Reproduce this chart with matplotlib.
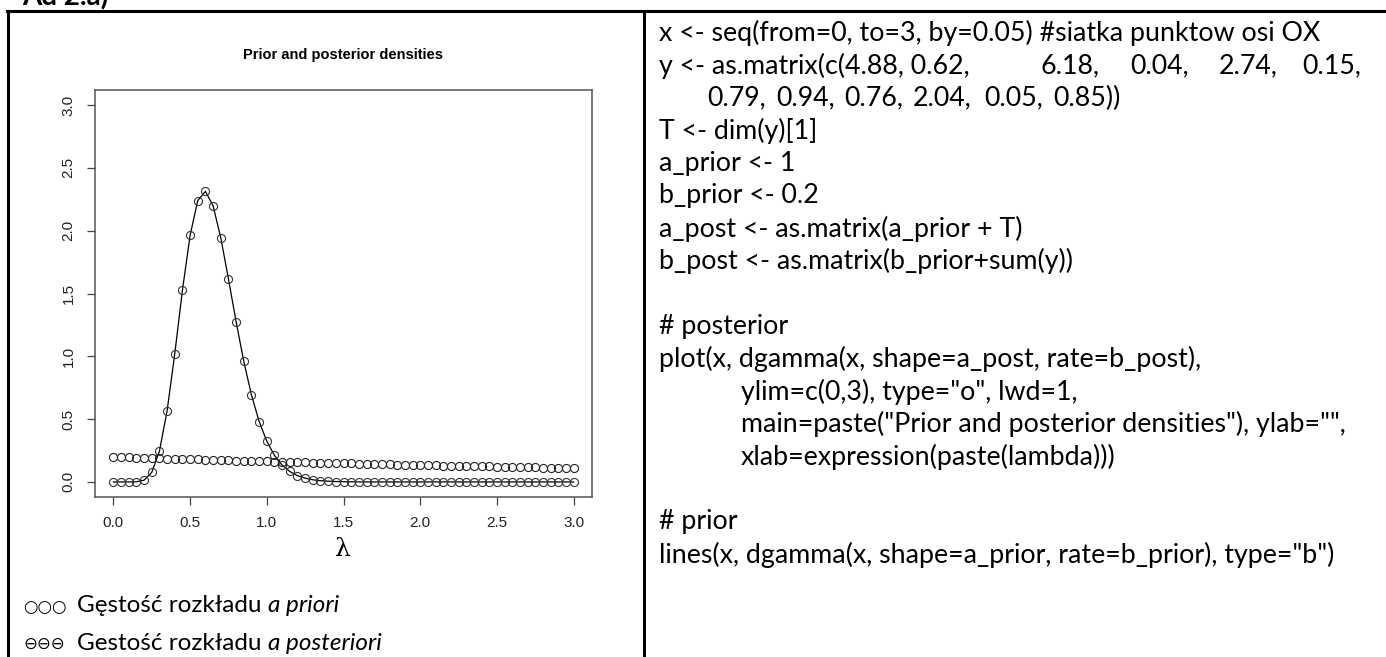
import matplotlib
matplotlib.use("Agg")
import matplotlib.pyplot as plt
from matplotlib.lines import Line2D

W, H = 1386, 657

# grid of lambda values (seq(from=0, to=3, by=0.05))
lam = [0.00, 0.05, 0.10, 0.15, 0.20, 0.25, 0.30, 0.35, 0.40, 0.45,
       0.50, 0.55, 0.60, 0.65, 0.70, 0.75, 0.80, 0.85, 0.90, 0.95,
       1.00, 1.05, 1.10, 1.15, 1.20, 1.25, 1.30, 1.35, 1.40, 1.45,
       1.50, 1.55, 1.60, 1.65, 1.70, 1.75, 1.80, 1.85, 1.90, 1.95,
       2.00, 2.05, 2.10, 2.15, 2.20, 2.25, 2.30, 2.35, 2.40, 2.45,
       2.50, 2.55, 2.60, 2.65, 2.70, 2.75, 2.80, 2.85, 2.90, 2.95,
       3.00]

posterior = [0.000, 0.000, 0.000, 0.001, 0.014, 0.076, 0.245, 0.566, 1.021, 1.526,
             1.963, 2.240, 2.313, 2.197, 1.943, 1.616, 1.275, 0.959, 0.692, 0.481,
             0.324, 0.211, 0.134, 0.083, 0.050, 0.030, 0.017, 0.010, 0.006, 0.003,
             0.002, 0.001, 0.000, 0.000, 0.000, 0.000, 0.000, 0.000, 0.000, 0.000,
             0.000, 0.000, 0.000, 0.000, 0.000, 0.000, 0.000, 0.000, 0.000, 0.000,
             0.000, 0.000, 0.000, 0.000, 0.000, 0.000, 0.000, 0.000, 0.000, 0.000,
             0.000]

prior = [0.200, 0.198, 0.196, 0.194, 0.192, 0.190, 0.188, 0.186, 0.185, 0.183,
         0.181, 0.179, 0.177, 0.176, 0.174, 0.172, 0.170, 0.169, 0.167, 0.165,
         0.164, 0.162, 0.161, 0.159, 0.157, 0.156, 0.154, 0.153, 0.151, 0.150,
         0.148, 0.147, 0.145, 0.144, 0.142, 0.141, 0.140, 0.138, 0.137, 0.135,
         0.134, 0.133, 0.131, 0.130, 0.129, 0.128, 0.126, 0.125, 0.124, 0.123,
         0.121, 0.120, 0.119, 0.118, 0.117, 0.115, 0.114, 0.113, 0.112, 0.111,
         0.110]

ticks = [0.0, 0.5, 1.0, 1.5, 2.0, 2.5, 3.0]
tick_labels = ["0.0", "0.5", "1.0", "1.5", "2.0", "2.5", "3.0"]

code_lines = [
    "x <- seq(from=0, to=3, by=0.05) #siatka punktow osi OX",
    None,  # row with tab-aligned numbers
    None,
    "T <- dim(y)[1]",
    "a_prior <- 1",
    "b_prior <- 0.2",
    "a_post <- as.matrix(a_prior + T)",
    "b_post <- as.matrix(b_prior+sum(y))",
    "",
    "# posterior",
    "plot(x, dgamma(x, shape=a_post, rate=b_post),",
    "ylim=c(0,3), type=\"o\", lwd=1,",
    "main=paste(\"Prior and posterior densities\"), ylab=\"\",",
    "xlab=expression(paste(lambda)))",
    "",
    "# prior",
    "lines(x, dgamma(x, shape=a_prior, rate=b_prior), type=\"b\")",
]
indented = {11, 12, 13}
row2 = [("y <- as.matrix(c(4.88, 0.62,", 659), ("6.18,", 1040), ("0.04,", 1130),
        ("2.74,", 1219), ("0.15,", 1302)]
row3 = [("0.79,", 707), ("0.94,", 776), ("0.76,", 844), ("2.04,", 913),
        ("0.05,", 984), ("0.85))", 1053)]

CODE_FONT = ["Lato", "DejaVu Sans"]
CODE_SIZE = 19.3
LEGEND_SIZE = 17.5
RFONT = ["Liberation Sans", "DejaVu Sans"]


def fx(px):
    return px / W


def fy(py):
    return 1 - py / H


fig = plt.figure(figsize=(W / 100, H / 100), dpi=100)
fig.patch.set_facecolor("white")

# heading cut by the page edge
fig.text(fx(22), fy(5), "Ad 2.a)", fontsize=20, fontweight="bold",
         family=["Lato", "DejaVu Sans"], va="baseline", ha="left")

# table borders
fig.add_artist(Line2D([fx(7), fx(1384)], [fy(11), fy(11)], color="black", lw=2.2))
fig.add_artist(Line2D([fx(8), fx(8)], [fy(11), fy(660)], color="black", lw=2.2))
fig.add_artist(Line2D([fx(644), fx(644)], [fy(11), fy(660)], color="black", lw=2.2))

# R plot
ax = fig.add_axes([fx(95), fy(497), (592 - 95) / W, (497 - 90) / H])
ax.plot(lam, posterior, color="black", lw=0.9, marker="o", markersize=5.8,
        markerfacecolor="none", markeredgecolor="#333333", markeredgewidth=0.8)
ax.plot(lam, prior, linestyle="none", marker="o", markersize=5.8,
        markerfacecolor="none", markeredgecolor="#222222", markeredgewidth=0.8)
ax.set_xlim(-0.12, 3.12)
ax.set_ylim(-0.12, 3.12)
ax.set_xticks(ticks)
ax.set_xticklabels(tick_labels, family=RFONT, fontsize=11, color="#222222")
ax.set_yticks(ticks)
ax.set_yticklabels(tick_labels, family=RFONT, fontsize=11, color="#222222",
                   rotation=90, va="center")
ax.tick_params(direction="out", length=6, width=0.9, color="#444444", pad=8)
for s in ax.spines.values():
    s.set_color("#555555")
    s.set_linewidth(1.1)

fig.text(fx(343), fy(55), "Prior and posterior densities", ha="center", va="center",
         fontsize=10.5, fontweight="bold", family=RFONT)
fig.text(fx(343), fy(550), "\u03bb", ha="center", va="center", fontsize=18,
         family=["DejaVu Serif"])

renderer = fig.canvas.get_renderer()


def draw_pieces(x0, y, pieces, size):
    x = x0
    for s, style in pieces:
        t = fig.text(fx(x), fy(y), s, fontsize=size, family=CODE_FONT, style=style,
                     ha="left", va="center")
        x += t.get_window_extent(renderer).width


# legend under the plot
fig.text(fx(23), fy(607), "\u25cb\u25cb\u25cb", fontsize=12, family=["DejaVu Sans"],
         ha="left", va="center")
fig.text(fx(23), fy(644), "\u2296\u2296\u2296", fontsize=12, family=["DejaVu Sans"],
         ha="left", va="center")
draw_pieces(77, 606, [("G\u0119sto\u015b\u0107 rozk\u0142adu ", "normal"),
                      ("a priori", "italic")], LEGEND_SIZE)
draw_pieces(77, 643, [("Gesto\u015b\u0107 rozk\u0142adu ", "normal"),
                      ("a posteriori", "italic")], LEGEND_SIZE)

# R code on the right
for i, line in enumerate(code_lines):
    y = 33 + 32.6 * i
    if i == 1:
        for s, x in row2:
            fig.text(fx(x), fy(y), s, fontsize=CODE_SIZE, family=CODE_FONT, va="center")
        continue
    if i == 2:
        for s, x in row3:
            fig.text(fx(x), fy(y), s, fontsize=CODE_SIZE, family=CODE_FONT, va="center")
        continue
    if not line:
        continue
    x = 741 if i in indented else 659
    fig.text(fx(x), fy(y), line, fontsize=CODE_SIZE, family=CODE_FONT, va="center")

fig.savefig("out.png", dpi=100)
